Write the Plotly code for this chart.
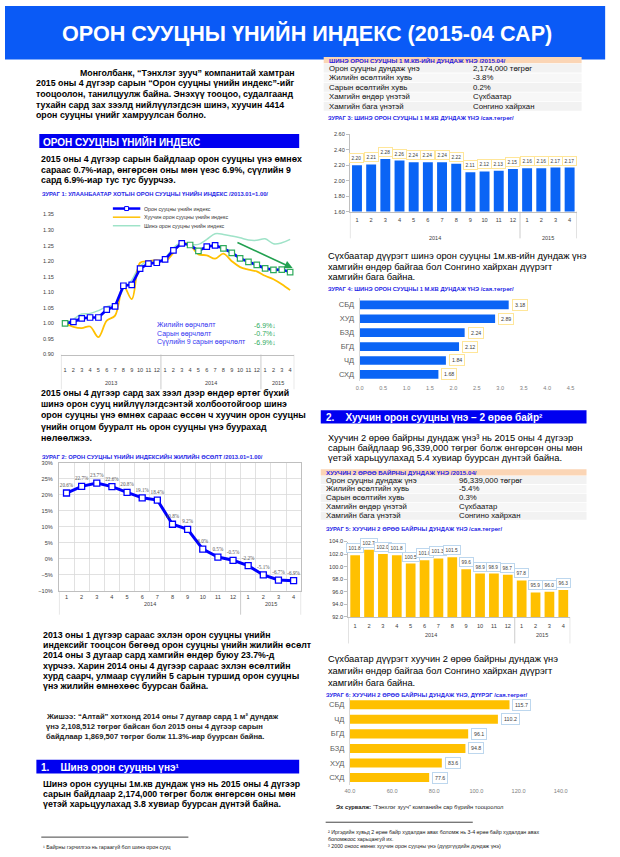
import plotly.graph_objects as go

W, H = 620, 857
def X(px): return px / W
def Y(py): return 1 - py / H

SANS = "Liberation Sans, Arial, Helvetica, sans-serif"
NARROW = "Liberation Sans Narrow, Arial Narrow, Liberation Sans, sans-serif"
SERIF = "Liberation Serif, Times New Roman, serif"

# ---------------- DATA ----------------
index_month_labels = [str(m) for m in range(1, 13)] * 2 + ["1", "2", "3", "4"]
index_years = ["2013", "2014", "2015"]
index_year_sizes = [12, 12, 4]
index_total = [1.000, 1.005, 1.016, 1.019, 1.019, 1.044, 1.055, 1.121, 1.124, 1.176, 1.192, 1.195,
               1.206, 1.235, 1.257, 1.252, 1.233, 1.247, 1.251, 1.241, 1.227, 1.209, 1.198, 1.188,
               1.177, 1.172, 1.173, 1.165]
index_old = [1.000, 0.989, 0.985, 0.990, 0.956, 1.009, 1.025, 1.121, 1.078, 1.195, 1.200, 1.203,
             1.200, 1.227, 1.259, 1.251, 1.222, 1.219, 1.208, 1.224, 1.200, 1.181, 1.173, 1.167,
             1.153, 1.142, 1.126, 1.107]
index_new = [1.000, 1.014, 1.030, 1.032, 1.041, 1.054, 1.062, 1.110, 1.139, 1.185, 1.200, 1.200,
             1.211, 1.243, 1.259, 1.254, 1.254, 1.270, 1.288, 1.286, 1.281, 1.275, 1.268, 1.267,
             1.272, 1.256, 1.259, 1.270]
index_series_names = ["Орон сууцны үнийн индекс", "Хуучин орон сууцны үнийн индекс",
                      "Шинэ орон сууцны үнийн индекс"]
change_labels = ["Жилийн өөрчлөлт", "Сарын өөрчлөлт", "Сүүлийн 9 сарын өөрчлөлт"]
change_values = ["-6.9%↓", "-0.7%↓", "-6.9%↓"]

growth_month_labels = [str(m) for m in range(1, 13)] + ["1", "2", "3", "4"]
growth_years = ["2014", "2015"]
growth_year_sizes = [12, 4]
growth_values = [20.6, 22.7, 23.7, 22.6, 20.8, 19.1, 18.4, 10.8, 9.2, 3.0, 0.5, -0.5,
                 -2.2, -5.1, -6.7, -6.9]

new_price = [2.20, 2.21, 2.28, 2.26, 2.24, 2.24, 2.24, 2.22, 2.11, 2.12, 2.13, 2.15,
             2.16, 2.16, 2.17, 2.17]
district_new_names = ["СБД", "ХУД", "БЗД", "БГД", "ЧД", "СХД"]
district_new_values = [3.18, 2.89, 2.24, 2.12, 1.84, 1.68]

old_price = [101.8, 102.7, 102.0, 101.8, 100.5, 101.0, 101.3, 101.5, 99.6, 98.9, 98.9, 98.7,
             97.8, 95.9, 96.0, 96.3]
district_old_names = ["СБД", "ЧД", "БГД", "БЗД", "ХУД", "СХД"]
district_old_values = [115.7, 110.2, 96.1, 94.8, 83.6, 77.6]

table_new_title = "ШИНЭ ОРОН СУУЦНЫ 1 М.КВ-ИЙН ДУНДАЖ ҮНЭ /2015.04/"
table_new_rows = [("Орон сууцны дундаж үнэ", "2,174,000 төгрөг"),
                  ("Жилийн өсөлтийн хувь", "-3.8%"),
                  ("Сарын өсөлтийн хувь", "0.2%"),
                  ("Хамгийн өндөр үнэтэй", "Сүхбаатар"),
                  ("Хамгийн бага үнэтэй", "Сонгино хайрхан")]
table_old_title = "ХУУЧИН 2 ӨРӨӨ БАЙРНЫ ДУНДАЖ ҮНЭ /2015.04/"
table_old_rows = [("Орон сууцны дундаж үнэ", "96,339,000 төгрөг"),
                  ("Жилийн өсөлтийн хувь", "-5.4%"),
                  ("Сарын өсөлтийн хувь", "0.3%"),
                  ("Хамгийн өндөр үнэтэй", "Сүхбаатар"),
                  ("Хамгийн бага үнэтэй", "Сонгино хайрхан")]

# ---------------- STYLE ----------------
BLUE = "#0000FF"
GREEN = "#2EAA5C"
GOLD = "#FFC000"
BAR_BLUE = "#0A64F5"
TITLE_BLUE = "#1F1FE6"
marker_edge_colors = [GREEN] + [BLUE] * 14 + [GREEN] * 2 + [BLUE] * 2 + [GREEN] * 9

fig = go.Figure()
ann = []
shp = []

def txt(px, py, s, size=9, color="#000", bold=False, xanchor="left", family=SANS):
    ann.append(dict(x=X(px), y=Y(py), xref="paper", yref="paper",
                    text=f"<b>{s}</b>" if bold else s, showarrow=False,
                    xanchor=xanchor, yanchor="middle",
                    font=dict(size=size, color=color, family=family)))

def rect(x0, y0, x1, y1, fill, line=None):
    shp.append(dict(type="rect", xref="paper", yref="paper", x0=X(x0), x1=X(x1),
                    y0=Y(y1), y1=Y(y0), fillcolor=fill,
                    line=dict(width=0 if line is None else 1, color=line or fill), layer="below"))

def hline(x0, x1, y, color="#000", width=1):
    shp.append(dict(type="line", xref="paper", yref="paper", x0=X(x0), x1=X(x1),
                    y0=Y(y), y1=Y(y), line=dict(color=color, width=width)))

def paragraph(x, y0, lines, step, size, bold=False, color="#000"):
    for i, l in enumerate(lines):
        txt(x, y0 + i * step, l, size=size, bold=bold, color=color)

def year_groups(xref, years, sizes, ytop, ylab, ybot):
    start = -0.5
    shp.append(dict(type="line", xref=xref, yref="paper", x0=start, x1=start,
                    y0=Y(ytop), y1=Y(ybot), line=dict(color="#BFBFBF", width=0.8)))
    for yr, n in zip(years, sizes):
        ann.append(dict(x=start + n / 2, xref=xref, y=Y(ylab), yref="paper", text=yr,
                        showarrow=False, font=dict(size=5.5, family=NARROW, color="#404040")))
        start += n
        shp.append(dict(type="line", xref=xref, yref="paper", x0=start, x1=start,
                        y0=Y(ytop), y1=Y(ybot), line=dict(color="#BFBFBF", width=0.8)))

# ---------------- HEADER ----------------
rect(0, 3, 612, 57, "#0A5AF6")
txt(308, 31, "ОРОН СУУЦНЫ ҮНИЙН ИНДЕКС (2015-04 САР)", size=21.6, color="white", bold=True, xanchor="center")

# ---------------- LEFT COLUMN ----------------
LB = 8.8
txt(74, 70, "Монголбанк, “Тэнхлэг зууч” компанитай хамтран", size=LB, bold=True)
paragraph(30, 80.8, ["2015 оны 4 дүгээр сарын “Орон сууцны үнийн индекс”-ийг",
                     "тооцоолон, танилцуулж байна. Энэхүү тооцоо, судалгаанд",
                     "тухайн сард зах зээлд нийлүүлэгдсэн шинэ, хуучин 4414",
                     "орон сууцны үнийг хамруулсан болно."], 10.8, LB, bold=True)

rect(35, 132, 300, 146, "#0000F0")
txt(37, 139.5, "ОРОН СУУЦНЫ ҮНИЙН ИНДЕКС", size=10, color="white", bold=True)
paragraph(35, 157.5, ["2015 оны 4 дүгээр сарын байдлаар орон сууцны үнэ өмнөх",
                      "сараас 0.7%-иар, өнгөрсөн оны мөн үеэс 6.9%, сүүлийн 9",
                      "сард 6.9%-иар тус тус буурчээ."], 10.5, LB, bold=True)
txt(36, 192, "ЗУРАГ 1: УЛААНБААТАР ХОТЫН ОРОН СУУЦНЫ ҮНИЙН ИНДЕКС /2013.01=1.00/",
    size=5.8, color=TITLE_BLUE, bold=True)

# chart 1 legend (drawn sample lines)
leg_y = [207, 215.7, 224.3]
leg_colors = [BLUE, GOLD, "#9FE3C8"]
leg_w = [2.5, 1.5, 1.5]
for yy, c, w, name in zip(leg_y, leg_colors, leg_w, index_series_names):
    hline(110, 138, yy, c, w)
    txt(140, yy, name, size=5.3, color="#333")
shp.append(dict(type="rect", xref="paper", yref="paper", x0=X(122), x1=X(126),
                y0=Y(209), y1=Y(205), fillcolor="white", line=dict(color=BLUE, width=1)))

x_idx = list(range(len(index_total)))
fig.add_trace(go.Scatter(x=x_idx, y=index_new, mode="lines", line=dict(color="#9FE3C8", width=1.5, shape="spline"),
                         xaxis="x", yaxis="y", name=index_series_names[2]))
fig.add_trace(go.Scatter(x=x_idx, y=index_old, mode="lines", line=dict(color=GOLD, width=1.8, shape="spline"),
                         xaxis="x", yaxis="y", name=index_series_names[1]))
fig.add_trace(go.Scatter(x=x_idx, y=index_total, mode="lines+markers", line=dict(color=BLUE, width=2.7),
                         marker=dict(symbol="square", size=5.5, color="white",
                                     line=dict(color=marker_edge_colors, width=1.2)),
                         xaxis="x", yaxis="y", name=index_series_names[0]))
year_groups("x", index_years, index_year_sizes, 354, 383, 389)
for i, (lab, val) in enumerate(zip(change_labels, change_values)):
    txt(153, 324.3 + i * 8.7, lab, size=7, color="#3636F0")
    txt(278, 324.3 + i * 8.7, val, size=7, color=GREEN, xanchor="right")
ann.append(dict(x=27.3, y=1.178, ax=20.5, ay=1.262, xref="x", yref="y", axref="x", ayref="y",
                showarrow=True, arrowhead=2, arrowsize=1, arrowwidth=1.6, arrowcolor="#22A050", text=""))

paragraph(35, 393, ["2015 оны 4 дүгээр сард зах зээл дээр өндөр өртөг бүхий",
                    "шинэ орон сууц нийлүүлэгдсэнтэй холбоотойгоор шинэ",
                    "орон сууцны үнэ өмнөх сараас өссөн ч хуучин орон сууцны",
                    "үнийн огцом бууралт нь орон сууцны үнэ буурахад",
                    "нөлөөлжээ."], 11.2, LB, bold=True)
txt(36, 457, "ЗУРАГ 2: ОРОН СУУЦНЫ ҮНИЙН ИНДЕКСИЙН ЖИЛИЙН ӨСӨЛТ /2013.01=1.00/",
    size=5.8, color=TITLE_BLUE, bold=True)

x_g = list(range(len(growth_values)))
fig.add_trace(go.Scatter(x=x_g, y=growth_values, mode="lines+markers+text",
                         line=dict(color=BLUE, width=3),
                         marker=dict(symbol="square", size=6, color="white", line=dict(color=BLUE, width=1.3)),
                         text=[f"{v:.1f}%" for v in growth_values], textposition="top center",
                         textfont=dict(size=5.2, family=SERIF, color="#555"),
                         xaxis="x2", yaxis="y2", name="growth"))
year_groups("x2", growth_years, growth_year_sizes, 591.7, 610, 616)

paragraph(37, 636, ["2013 оны 1 дүгээр сараас эхлэн орон сууцны үнийн",
                    "индексийг тооцсон бөгөөд орон сууцны үнийн жилийн өсөлт",
                    "2014 оны 3 дугаар сард хамгийн өндөр буюу 23.7%-д",
                    "хүрчээ. Харин 2014 оны 4 дүгээр сараас эхлэн өсөлтийн",
                    "хурд саарч, улмаар сүүлийн 5 сарын туршид орон сууцны",
                    "үнэ жилийн өмнөхөөс буурсан байна."], 10.4, LB, bold=True)
paragraph(40, 719, ["Жишээ: “Алтай” хотхонд 2014 оны 7 дугаар сард 1 м² дундаж",
                    "үнэ 2,108,512 төгрөг байсан бол 2015 оны 4 дүгээр сарын",
                    "байдлаар 1,869,507 төгрөг болж 11.3%-иар буурсан байна."], 9.6, 7.6, bold=True,
          color="#222")
rect(32, 762, 300, 776, "#0000F0")
txt(35, 769.5, "1.    Шинэ орон сууцны үнэ¹", size=10, color="white", bold=True)
paragraph(37, 787, ["Шинэ орон сууцны 1м.кв дундаж үнэ нь 2015 оны 4 дүгээр",
                    "сарын байдлаар 2,174,000 төгрөг болж өнгөрсөн оны мөн",
                    "үетэй харьцуулахад 3.8 хувиар буурсан дүнтэй байна."], 9.8, LB, bold=True)
hline(37, 187, 840, "#444", 1)
txt(37, 850, "¹ Байрны гэрчилгээ нь гараагүй бол шинэ орон сууц", size=5.3, color="#222")

# ---------------- RIGHT COLUMN ----------------
RS = 9.3
def table(y_band, title, rows, step, x0=325, x1=588, xval=475):
    rect(x0, y_band, x1, y_band + 6.3, "#FBD5B5")
    txt(x0 + 3, y_band + 3.2, title, size=6.2, color=TITLE_BLUE, bold=True)
    top = y_band + 6.8
    for i, (a, b) in enumerate(rows):
        rect(x0, top + i * step, x1, top + (i + 1) * step - 0.8, "#F2F2F2" if i % 2 == 0 else "#F7F7F7")
        cy = top + i * step + step / 2 - 0.4
        txt(x0 + 3, cy, a, size=7.8, color="#111")
        txt(xval, cy, b, size=7.8, color="#111")

table(54.5, table_new_title, table_new_rows, 9.6)
txt(327, 116, "ЗУРАГ 3: ШИНЭ ОРОН СУУЦНЫ 1 М.КВ ДУНДАЖ ҮНЭ /сая.төгрөг/", size=5.8, color=TITLE_BLUE, bold=True)

x_m = list(range(len(new_price)))
fig.add_trace(go.Bar(x=x_m, y=new_price, marker=dict(color=BAR_BLUE, line=dict(width=0)),
                     xaxis="x3", yaxis="y3", name="new"))
for i, v in enumerate(new_price):
    ann.append(dict(x=i, y=v, xref="x3", yref="y3", text=f"{v:.2f}", showarrow=False, yanchor="bottom",
                    yshift=2, font=dict(size=4.8, family=NARROW, color="#404040"), bgcolor="white",
                    bordercolor="#FFE699", borderwidth=1, borderpad=1.6))
year_groups("x3", growth_years, growth_year_sizes, 210, 232, 237)

paragraph(327, 255, ["Сүхбаатар дүүрэгт шинэ орон сууцны 1м.кв-ийн дундаж үнэ",
                     "хамгийн өндөр байгаа бол Сонгино хайрхан дүүрэгт",
                     "хамгийн бага байна."], 10.7, RS)
txt(327, 288, "ЗУРАГ 4: ШИНЭ ОРОН СУУЦНЫ 1 М.КВ ДУНДАЖ ҮНЭ /сая.төгрөг/", size=5.8, color=TITLE_BLUE, bold=True)
fig.add_trace(go.Bar(y=district_new_names, x=district_new_values, orientation="h",
                     marker=dict(color=BAR_BLUE, line=dict(width=0)), xaxis="x4", yaxis="y4", name="dnew"))
for n, v in zip(district_new_names, district_new_values):
    ann.append(dict(x=v, y=n, xref="x4", yref="y4", text=f"{v:.2f}", showarrow=False, xanchor="left",
                    xshift=3, font=dict(size=5.3, family=NARROW, color="#404040"), bgcolor="white",
                    bordercolor="#FFE699", borderwidth=1, borderpad=2))

rect(322, 410, 593, 423.5, "#0000F0")
txt(325, 417, "2.    Хуучин орон сууцны үнэ – 2 өрөө байр²", size=10, color="white", bold=True)
paragraph(327, 438.5, ["Хуучин 2 өрөө байрны дундаж үнэ³ нь 2015 оны 4 дүгээр",
                       "сарын байдлаар 96,339,000 төгрөг болж өнгөрсөн оны мөн",
                       "үетэй харьцуулахад 5.4 хувиар буурсан дүнтэй байна."], 10.0, RS)
table(469.5, table_old_title, table_old_rows, 9.0, x0=322, x1=593, xval=461)
txt(325, 529.5, "ЗУРАГ 5: ХУУЧИН 2 ӨРӨӨ БАЙРНЫ ДУНДАЖ ҮНЭ /сая.төгрөг/", size=5.8, color=TITLE_BLUE, bold=True)

fig.add_trace(go.Bar(x=x_m, y=old_price, marker=dict(color=GOLD, line=dict(width=0)),
                     xaxis="x5", yaxis="y5", name="old"))
for i, v in enumerate(old_price):
    ann.append(dict(x=i, y=v, xref="x5", yref="y5", text=f"{v:.1f}", showarrow=False, yanchor="bottom",
                    yshift=2, font=dict(size=4.8, family=NARROW, color="#404040"), bgcolor="white",
                    bordercolor="#BDD7EE", borderwidth=1, borderpad=1.6))
year_groups("x5", growth_years, growth_year_sizes, 618.3, 641, 645)

paragraph(327, 661, ["Сүхбаатар дүүрэгт хуучин 2 өрөө байрны дундаж үнэ",
                     "хамгийн өндөр байгаа бол Сонгино хайрхан дүүрэгт",
                     "хамгийн бага байна."], 11.8, RS)
txt(325, 696, "ЗУРАГ 6: ХУУЧИН 2 ӨРӨӨ БАЙРНЫ ДУНДАЖ ҮНЭ, ДҮҮРЭГ /сая.төгрөг/", size=5.8, color=TITLE_BLUE, bold=True)
fig.add_trace(go.Bar(y=district_old_names, x=district_old_values, orientation="h",
                     marker=dict(color=GOLD, line=dict(width=0)), xaxis="x6", yaxis="y6", name="dold"))
for n, v in zip(district_old_names, district_old_values):
    ann.append(dict(x=v, y=n, xref="x6", yref="y6", text=f"{v:.1f}", showarrow=False, xanchor="left",
                    xshift=3, font=dict(size=5.3, family=NARROW, color="#404040"), bgcolor="white",
                    bordercolor="#BDD7EE", borderwidth=1, borderpad=2))

txt(335, 810, "<b>Эх сурвалж:</b> “Тэнхлэг зууч” компанийн сар бүрийн тооцоолол", size=5.8, color="#222")
hline(327, 477, 825, "#444", 1)
txt(327, 835, "² Иргэдийн хувьд 2 өрөө байр худалдан авах боломж нь 3-4 өрөө байр худалдан авах",
    size=5.3, color="#222")
txt(327, 841.7, "боломжоос харьцангуй их.", size=5.3, color="#222")
txt(327, 848.5, "³ 2000 оноос өмнөх хуучин орон сууцны үнэ (дүүргүүдийн дундаж үнэ)", size=5.3, color="#222")

# ---------------- AXES ----------------
tickf = dict(size=5.6, family=NARROW, color="#404040")
def dom(a, b): return [X(a), X(b)]
def domy(top, bot): return [Y(bot), Y(top)]

fig.update_layout(
    width=W, height=H, margin=dict(l=0, r=0, t=0, b=0), paper_bgcolor="white", plot_bgcolor="rgba(0,0,0,0)",
    showlegend=False, bargap=0.3, hovermode=False,
    xaxis=dict(domain=dom(57, 295), range=[-0.5, 27.5], tickvals=x_idx, ticktext=index_month_labels,
               showline=True, linecolor="#BFBFBF", ticks="", showgrid=False, zeroline=False,
               tickfont=tickf, ticklabelstandoff=10, anchor="y"),
    yaxis=dict(domain=domy(213, 354), range=[0.90, 1.35], dtick=0.05, tickformat=".2f", showgrid=False,
               zeroline=False, showline=False, tickfont=tickf, ticklabelstandoff=6, anchor="x"),
    xaxis2=dict(domain=dom(55, 302), range=[-0.5, 15.5], tickvals=x_g, ticktext=growth_month_labels,
                showline=True, mirror=True, linecolor="#BFBFBF", ticks="", showgrid=False, zeroline=False,
                tickfont=tickf, ticklabelstandoff=1, anchor="y2",
                minor=dict(tickvals=[k - 0.5 for k in range(17)], showgrid=True, gridcolor="#D9D9D9",
                           gridwidth=0.8, ticks="")),
    yaxis2=dict(domain=domy(463.3, 591.7), range=[-10, 30], dtick=5, ticksuffix="%", showgrid=True,
                gridcolor="#D9D9D9", gridwidth=0.8, zeroline=False, showline=True, mirror=True,
                linecolor="#BFBFBF", tickfont=tickf, ticklabelstandoff=4, anchor="x2"),
    xaxis3=dict(domain=dom(351.7, 583), range=[-0.5, 15.5], tickvals=x_m, ticktext=growth_month_labels,
                showline=True, linecolor="#BFBFBF", ticks="", showgrid=False, zeroline=False,
                tickfont=tickf, ticklabelstandoff=3, anchor="y3"),
    yaxis3=dict(domain=domy(132.3, 210), range=[1.6, 2.6], dtick=0.2, tickformat=".2f", showgrid=False,
                zeroline=False, showline=True, linecolor="#BFBFBF", ticks="outside", ticklen=3,
                tickcolor="#BFBFBF", tickfont=tickf, anchor="x3"),
    xaxis4=dict(domain=dom(361.7, 576.7), range=[0, 4.5], dtick=0.5, tickformat=".1f", showgrid=False,
                zeroline=False, showline=False, ticks="", tickfont=dict(size=5.6, family=NARROW, color="#7F7F7F"),
                ticklabelstandoff=2, anchor="y4"),
    yaxis4=dict(domain=domy(297, 381), autorange="reversed", showgrid=False, zeroline=False, showline=True,
                linecolor="#D9D9D9", ticks="", tickfont=dict(size=7.5, family=SANS, color="#595959"),
                ticklabelstandoff=3, anchor="x4"),
    xaxis5=dict(domain=dom(350, 576.4), range=[-0.5, 15.5], tickvals=x_m, ticktext=growth_month_labels,
                showline=True, linecolor="#BFBFBF", ticks="", showgrid=False, zeroline=False,
                tickfont=tickf, ticklabelstandoff=3, anchor="y5"),
    yaxis5=dict(domain=domy(542.3, 618.3), range=[92, 104], dtick=2, tickformat=".1f", showgrid=False,
                zeroline=False, showline=True, linecolor="#BFBFBF", ticks="outside", ticklen=3,
                tickcolor="#BFBFBF", tickfont=tickf, anchor="x5"),
    xaxis6=dict(domain=dom(351.7, 566.7), range=[40, 140], dtick=20, tickformat=".1f", showgrid=False,
                zeroline=False, showline=False, ticks="", tickfont=dict(size=5.6, family=NARROW, color="#7F7F7F"),
                ticklabelstandoff=2, anchor="y6"),
    yaxis6=dict(domain=domy(699.4, 787.3), autorange="reversed", showgrid=False, zeroline=False, showline=True,
                linecolor="#D9D9D9", ticks="", tickfont=dict(size=7.5, family=SANS, color="#595959"),
                ticklabelstandoff=3, anchor="x6"),
    annotations=ann, shapes=shp,
)
fig.update_traces(selector=dict(type="bar"), width=0.7)
fig.update_traces(selector=dict(name="dnew"), width=0.62)
fig.update_traces(selector=dict(name="dold"), width=0.62)

fig.write_html("out.html", config={"displayModeBar": False, "staticPlot": True},
               post_script="document.body.style.margin='0';document.body.style.padding='0';"
                           "document.body.style.overflow='hidden';")
